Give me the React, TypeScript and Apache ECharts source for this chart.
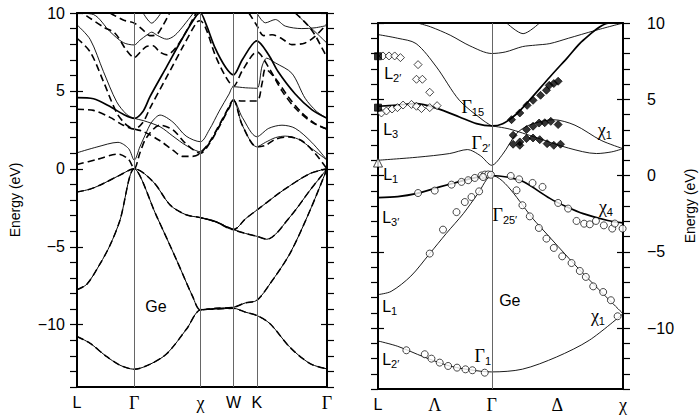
import React, { useEffect, useRef } from "react";
import * as echarts from "echarts";

// ---------- axes / tick labels ----------
const leftTickPos = [0, 0.866, 1.866, 2.366, 2.72, 3.781];
const leftTickLabels = ["L", "Γ", "χ", "W", "K", "Γ"];
const rightTickPos = [0, 0.433, 0.866, 1.366, 1.866];
const rightTickLabels = ["L", "Λ", "Γ", "Δ", "χ"];
const leftVerticals = [0.866, 1.866, 2.366, 2.72];
const rightVerticals = [0.866];
const majorTicks = [-10, -5, 0, 5, 10];

// ---------- left panel (two calculations: solid / dashed) ----------
const leftValence = [
  [[0,-10.76],[0.2,-11.2],[0.433,-12.0],[0.65,-12.6],[0.866,-12.86],[1.1,-12.55],[1.357,-11.87],[1.66,-10.26],[1.866,-9.05],[2.1,-9.0],[2.366,-8.95],[2.55,-9.2],[2.72,-9.41],[2.92,-9.94],[3.22,-11.45],[3.525,-12.5],[3.781,-12.84]],
  [[0,-7.76],[0.15,-7.4],[0.348,-6.1],[0.5,-4.9],[0.65,-3.3],[0.866,0],[1.2,-3.0],[1.508,-5.87],[1.75,-8.2],[1.866,-9.05],[2.1,-8.95],[2.366,-8.88],[2.55,-8.6],[2.72,-8.44],[2.92,-7.37],[3.22,-5.44],[3.525,-2.66],[3.781,0]],
  [[0,-1.48],[0.2,-1.3],[0.4,-0.94],[0.65,-0.4],[0.866,0],[1.154,-0.84],[1.41,-2.33],[1.65,-2.95],[1.866,-3.13],[2.1,-3.4],[2.366,-3.9],[2.55,-4.15],[2.72,-4.33],[2.87,-4.52],[3.22,-3.09],[3.525,-1.37],[3.781,0]],
  [[1.866,-3.13],[2.1,-3.4],[2.366,-3.9],[2.55,-3.2],[2.72,-2.65],[3.12,-1.37],[3.525,-0.3],[3.781,0]],
];
const leftSolidThin = [
  [[0,1.03],[0.3,1.4],[0.62,1.7],[0.78,1.3],[0.866,0.56],[0.95,1.4],[1.03,2.16],[1.13,3.0],[1.256,3.45],[1.45,3.0],[1.65,2.1],[1.866,1.74],[2.0,2.5],[2.15,3.7],[2.3,4.8],[2.366,5.27],[2.55,5.2],[2.72,5.17],[2.8,6.6],[2.87,7.1],[3.0,6.8],[3.25,6.13],[3.45,4.53],[3.62,3.7],[3.781,3.24]],
  [[0,9.24],[0.2,8.3],[0.4,6.24],[0.6,4.3],[0.75,3.5],[0.866,3.24],[1.0,3.1],[1.256,2.7],[1.45,2.1],[1.65,1.5],[1.866,1.1],[2.0,1.65],[2.15,2.75],[2.3,3.95],[2.366,4.42],[2.5,3.3],[2.72,2.06],[2.9,2.6],[3.1,2.8],[3.3,2.6],[3.55,1.7],[3.781,0.56]],
  [[1.866,1.1],[2.0,1.65],[2.15,2.75],[2.3,3.95],[2.366,4.42],[2.5,2.8],[2.72,1.41],[2.85,1.7],[3.0,2.0],[3.15,2.1],[3.35,1.9],[3.55,1.3],[3.781,0.56]],
  [[0,10.0],[0.25,9.9],[0.5,8.8],[0.7,8.1],[0.866,7.95],[0.95,8.25],[1.06,8.6],[1.13,8.77],[1.22,8.55],[1.357,8.32],[1.46,8.5],[1.56,8.92],[1.76,10.0]],
  [[1.0,10.0],[1.13,9.35],[1.27,10.0]],
  [[2.72,10.0],[2.85,9.37],[3.0,9.58],[3.15,9.16],[3.4,9.0],[3.6,9.05],[3.781,9.2]],
  [[3.3,10.0],[3.5,9.2],[3.65,8.6],[3.781,8.06]],
];
const leftSolidThick = [
  [[0,4.57],[0.25,4.5],[0.5,4.0],[0.7,3.5],[0.866,3.24],[1.0,3.7],[1.104,4.63],[1.357,6.56],[1.61,8.49],[1.81,9.85],[1.866,10.0],[1.95,9.3],[2.09,7.74],[2.25,6.5],[2.366,6.03],[2.5,7.0],[2.72,8.21],[2.9,7.3],[3.04,6.24],[3.3,4.8],[3.55,3.8],[3.781,3.24]],
];
const leftDashed = [
  [[0,0.28],[0.3,0.6],[0.62,0.95],[0.78,0.6],[0.866,0],[0.95,1.0],[1.05,2.0],[1.256,2.8],[1.45,2.5],[1.65,1.6],[1.866,1.0],[2.0,1.6],[2.15,2.7],[2.3,3.9],[2.366,4.42],[2.5,2.8],[2.72,1.41],[2.85,1.5],[3.0,1.9],[3.2,2.05],[3.4,1.8],[3.6,1.0],[3.781,0]],
  [[0,3.82],[0.25,3.75],[0.5,3.3],[0.7,2.8],[0.866,2.55],[1.0,3.0],[1.104,3.9],[1.357,5.9],[1.61,7.9],[1.81,9.4],[1.866,9.5],[1.95,9.0],[2.09,7.3],[2.25,5.9],[2.366,5.3],[2.5,6.3],[2.72,7.5],[2.9,6.5],[3.1,5.0],[3.3,3.9],[3.55,3.0],[3.781,2.55]],
  [[0,8.38],[0.2,7.5],[0.4,5.6],[0.6,3.6],[0.75,2.8],[0.866,2.55],[1.0,2.4],[1.256,1.8],[1.45,1.2],[1.6,0.8],[1.75,0.8],[1.866,1.0],[2.0,1.7],[2.15,2.8],[2.3,4.0],[2.366,4.42],[2.5,4.35],[2.72,4.35],[2.8,5.5],[2.85,6.4],[3.0,5.8],[3.2,4.6],[3.4,3.6],[3.6,2.9],[3.781,2.55]],
  [[0,10.2],[0.15,9.8],[0.4,9.1],[0.575,8.7],[0.75,7.6],[0.866,7.14],[0.96,7.5],[1.05,7.85],[1.15,7.9],[1.25,7.5],[1.36,7.31],[1.5,7.8],[1.65,8.8],[1.8,10.0]],
  [[0.5,10.0],[0.7,9.55],[0.866,9.35],[1.0,8.9],[1.1,8.55],[1.2,8.6],[1.3,9.2],[1.4,10.0]],
  [[2.6,10.0],[2.72,9.2],[2.82,8.55],[2.95,8.6],[3.1,8.35],[3.25,7.97],[3.45,8.08],[3.6,8.5],[3.781,9.3]],
  [[3.3,10.0],[3.45,9.4],[3.58,8.72],[3.7,7.8],[3.781,7.14]],
];
const leftLabels = [[1.195, -8.83, "{m|Ge}"]];

// ---------- right panel (calculation + experiment) ----------
const rightThin = [
  [[0,-10.85],[0.15,-11.2],[0.35,-11.9],[0.55,-12.5],[0.75,-12.8],[0.866,-12.88],[1.1,-12.7],[1.36,-11.9],[1.61,-10.8],[1.866,-9.06]],
  [[0,-7.81],[0.1,-7.6],[0.25,-6.6],[0.394,-5.12],[0.52,-3.8],[0.65,-2.5],[0.76,-1.2],[0.866,0],[1.207,-3.1],[1.537,-6.2],[1.866,-9.06]],
  [[0,1.0],[0.3,1.2],[0.546,1.44],[0.68,1.7],[0.78,1.3],[0.866,0.67],[0.95,1.4],[1.055,2.75],[1.15,3.3],[1.334,3.66],[1.5,3.3],[1.7,2.3],[1.866,1.76]],
  [[0.866,3.25],[1.0,3.05],[1.2,2.5],[1.45,1.8],[1.664,1.44],[1.78,1.55],[1.866,1.76]],
  [[0,9.24],[0.15,9.0],[0.29,8.65],[0.445,7.12],[0.62,4.93],[0.8,3.62],[0.866,3.25]],
  [[0.3,10.0],[0.4,9.75],[0.55,9.2],[0.7,8.5],[0.866,8.0],[0.97,8.1],[1.1,8.45],[1.2,8.55],[1.309,8.65],[1.45,9.0],[1.65,9.5],[1.866,10.0]],
  [[0.98,10.0],[1.105,9.3],[1.23,10.0]],
];
const rightThick = [
  [[0,-1.45],[0.15,-1.38],[0.29,-1.19],[0.47,-0.75],[0.62,-0.4],[0.75,-0.12],[0.866,0],[0.98,-0.1],[1.105,-0.4],[1.309,-1.5],[1.436,-2.05],[1.563,-2.5],[1.75,-2.95],[1.866,-3.11]],
  [[0,4.54],[0.15,4.62],[0.29,4.71],[0.45,4.4],[0.62,3.84],[0.75,3.4],[0.866,3.25],[0.95,3.4],[1.05,4.0],[1.15,4.9],[1.309,6.46],[1.44,7.7],[1.563,8.87],[1.766,10.0],[1.866,10.0]],
];
const expCircles = [
  [0.305,-1.15],[0.432,-0.99],[0.56,-0.6],[0.636,-0.42],[0.687,-0.31],[0.737,-0.16],[0.788,0.0],[0.814,0.06],[0.839,0.07],[0.86,0.05],
  [0.394,-5.12],[0.495,-3.55],[0.598,-2.4],[0.661,-1.74],[0.712,-1.41],[0.77,-1.04],[0.8,-0.1],
  [1.011,-0.03],[1.075,-0.25],[1.177,-0.49],[1.253,-0.75],[1.055,-0.97],[1.1,-1.95],
  [1.372,-1.8],[1.448,-2.17],[1.512,-2.98],[1.57,-3.16],[1.613,-3.2],[1.66,-2.98],[1.72,-3.27],[1.784,-3.48],[1.804,-3.15],[1.863,-3.48],
  [1.156,-2.68],[1.225,-3.44],[1.283,-4.14],[1.339,-4.75],[1.403,-5.3],[1.474,-5.74],[1.537,-6.26],[1.583,-6.65],[1.639,-7.27],[1.715,-7.64],[1.774,-8.18],[1.825,-9.23],
  [0.216,-11.46],[0.356,-11.72],[0.407,-12.01],[0.47,-12.27],[0.534,-12.49],[0.602,-12.6],[0.666,-12.71],[0.719,-12.77],[0.813,-12.93],
];
const expOpenDiamonds = [
  [0.038,7.84],[0.084,7.84],[0.127,7.84],[0.171,7.73],[0.305,7.27],[0.293,6.31],[0.338,6.31],[0.394,5.46],
  [0.026,4.1],[0.064,4.23],[0.107,4.36],[0.148,4.45],[0.191,4.62],[0.255,4.66],[0.293,4.54],[0.331,4.39],[0.394,4.45],[0.45,4.58],
];
const expFilledDiamonds = [
  [1.017,3.66],[1.08,4.1],[1.136,4.6],[1.181,4.93],[1.238,5.26],[1.283,5.59],[1.304,5.91],[1.339,6.03],[1.372,6.18],
  [1.029,2.64],[1.131,3.01],[1.181,3.23],[1.227,3.44],[1.27,3.46],[1.316,3.55],[1.372,3.34],
  [1.029,2.05],[1.08,2.2],[1.08,1.98],[1.131,2.42],[1.181,2.46],[1.232,2.35],[1.288,2.09],[1.339,1.98],[1.39,2.05],
];
const expSquares = [[0,7.82],[0,4.45]];
const expTriangles = [[0,0.85]];
const rightLabels = [
  [0.112, 6.7, "{m|L}{s|2′}"],
  [0.097, 3.03, "{m|L}{s|3}"],
  [0.097, 0.08, "{m|L}{s|1}"],
  [0.097, -2.74, "{m|L}{s|3′}"],
  [0.089, -8.58, "{m|L}{s|1}"],
  [0.097, -12.05, "{m|L}{s|2′}"],
  [0.722, 4.47, "{g|Γ}{s|15}"],
  [0.783, 2.11, "{g|Γ}{s|2′}"],
  [0.966, -2.61, "{g|Γ}{s|25′}"],
  [0.798, -11.86, "{g|Γ}{s|1}"],
  [1.728, 2.96, "{g|χ}{s|1}"],
  [1.736, -2.09, "{g|χ}{s|4}"],
  [1.675, -9.23, "{g|χ}{s|1}"],
  [1.004, -8.18, "{m|Ge}"],
];

const SANS = "'Liberation Sans', Arial, sans-serif";
const SERIF = "'Liberation Serif', 'DejaVu Serif', serif";
const greek = /[ΓΛΔχ]/;

const richGraphic = {
  m: { fill: "#000", fontFamily: SANS, fontSize: 16 },
  g: { fill: "#000", fontFamily: SERIF, fontSize: 18 },
  s: { fill: "#000", fontFamily: SANS, fontSize: 11, padding: [9, 0, 0, 0] },
};

function tickFormatter(pos: number[], labels: string[]) {
  return (v: number) => {
    const i = pos.findIndex((p) => Math.abs(p - v) < 1e-6);
    if (i < 0) return "";
    const t = labels[i];
    return greek.test(t) ? `{g|${t}}` : `{s|${t}}`;
  };
}

function buildOption() {
  const Y_MIN = -14;
  const Y_MAX = 10;
  const frame = { show: true, onZero: false, lineStyle: { color: "#000", width: 2 } };
  const yFmt = (v: number) => (v % 5 === 0 ? (v < 0 ? "−" + Math.abs(v) : String(v)) : "");

  const yOuter = (grid: number, position: string, labels: boolean, name: string, nameGap: number, margin: number) => ({
    type: "value",
    gridIndex: grid,
    position,
    min: Y_MIN,
    max: Y_MAX,
    interval: 1,
    name,
    nameLocation: "middle",
    nameRotate: 90,
    nameGap,
    nameTextStyle: { fontFamily: SANS, fontSize: 14, color: "#000" },
    axisLine: frame,
    axisTick: { show: true, inside: false, length: 7, lineStyle: { color: "#000", width: 1.2 } },
    axisLabel: {
      show: labels,
      formatter: yFmt,
      margin,
      fontFamily: SANS,
      fontSize: 16,
      color: "#000",
      showMinLabel: true,
      showMaxLabel: true,
    },
    splitLine: { show: false },
  });
  const yInner = (grid: number, position: string) => ({
    type: "value",
    gridIndex: grid,
    position,
    min: Y_MIN,
    max: Y_MAX,
    axisLine: { show: false, onZero: false },
    axisTick: { show: true, inside: true, length: 6, customValues: majorTicks, lineStyle: { color: "#000", width: 1.2 } },
    axisLabel: { show: false },
    splitLine: { show: false },
  });
  const xBottom = (grid: number, max: number, pos: number[], labels: string[]) => ({
    type: "value",
    gridIndex: grid,
    position: "bottom",
    min: 0,
    max,
    axisLine: frame,
    axisTick: { show: false },
    splitLine: { show: false },
    axisLabel: {
      customValues: pos,
      formatter: tickFormatter(pos, labels),
      margin: 7,
      showMinLabel: true,
      showMaxLabel: true,
      rich: {
        g: { fontFamily: SERIF, fontSize: 18, color: "#000" },
        s: { fontFamily: SANS, fontSize: 16, color: "#000" },
      },
    },
  });
  const xTop = (grid: number, max: number) => ({
    type: "value",
    gridIndex: grid,
    position: "top",
    min: 0,
    max,
    axisLine: frame,
    axisTick: { show: false },
    axisLabel: { show: false },
    splitLine: { show: false },
  });

  const line = (data: number[][], xi: number, yi: number, width: number, dashed: boolean) => ({
    type: "line",
    xAxisIndex: xi,
    yAxisIndex: yi,
    data,
    smooth: 0.3,
    symbol: "none",
    silent: true,
    clip: true,
    z: 3,
    lineStyle: { color: "#000", width, type: dashed ? [7, 4] : "solid" },
  });
  const scatter = (data: number[][], symbol: string, size: number, filled: boolean) => ({
    type: "scatter",
    xAxisIndex: 2,
    yAxisIndex: 4,
    data,
    symbol,
    symbolSize: size,
    silent: true,
    clip: false,
    z: 5,
    itemStyle: { color: filled ? "#000" : "#fff", borderColor: "#000", borderWidth: 0.9 },
  });
  const verticalSeries = (xi: number, yi: number, xs: number[]) => ({
    type: "line",
    xAxisIndex: xi,
    yAxisIndex: yi,
    data: [],
    silent: true,
    z: 2,
    markLine: {
      silent: true,
      symbol: ["none", "none"],
      label: { show: false },
      lineStyle: { color: "#666", width: 1, type: "solid" },
      data: xs.map((v) => ({ xAxis: v })),
    },
  });

  const series: any[] = [];
  series.push(verticalSeries(0, 0, leftVerticals));
  series.push(verticalSeries(2, 4, rightVerticals));
  leftValence.forEach((b) => {
    series.push(line(b, 0, 0, 1.0, false));
    series.push(line(b, 0, 0, 1.5, true));
  });
  leftSolidThin.forEach((b) => series.push(line(b, 0, 0, 0.9, false)));
  leftSolidThick.forEach((b) => series.push(line(b, 0, 0, 1.7, false)));
  leftDashed.forEach((b) => series.push(line(b, 0, 0, 1.6, true)));
  rightThin.forEach((b) => series.push(line(b, 2, 4, 0.9, false)));
  rightThick.forEach((b) => series.push(line(b, 2, 4, 1.7, false)));
  series.push(scatter(expCircles, "circle", 7, false));
  series.push(scatter(expOpenDiamonds, "diamond", 8, false));
  series.push(scatter(expFilledDiamonds, "diamond", 8, true));
  series.push(scatter(expSquares, "rect", 7, true));
  series.push(scatter(expTriangles, "triangle", 9, false));

  return {
    animation: false,
    backgroundColor: "#fff",
    grid: [
      { left: 77, top: 13, width: 250, height: 374 },
      { left: 378, top: 23, width: 245, height: 366 },
    ],
    xAxis: [
      xBottom(0, 3.781, leftTickPos, leftTickLabels),
      xTop(0, 3.781),
      xBottom(1, 1.866, rightTickPos, rightTickLabels),
      xTop(1, 1.866),
    ],
    yAxis: [
      yOuter(0, "left", true, "Energy (eV)", 55, 12),
      yInner(0, "left"),
      yOuter(0, "right", false, "", 0, 8),
      yInner(0, "right"),
      yOuter(1, "left", false, "", 0, 8),
      yInner(1, "left"),
      yOuter(1, "right", true, "Energy (eV)", 60, 24),
      yInner(1, "right"),
    ],
    series,
  };
}

function annotationGraphics(chart: any) {
  const make = (rows: any[][], xAxisIndex: number, yAxisIndex: number) =>
    rows.map((r) => {
      const [px, py] = chart.convertToPixel({ xAxisIndex, yAxisIndex }, [r[0], r[1]]);
      return {
        type: "text",
        x: px,
        y: py,
        silent: true,
        z: 10,
        style: { text: r[2], rich: richGraphic, fill: "#000", align: "center", verticalAlign: "middle" },
      };
    });
  return [...make(leftLabels, 0, 0), ...make(rightLabels, 2, 4)];
}

export default function App() {
  const ref = useRef<HTMLDivElement>(null);
  useEffect(() => {
    if (!ref.current) return;
    const chart = echarts.init(ref.current, null, { renderer: "svg" });
    chart.setOption(buildOption() as any);
    chart.setOption({ graphic: annotationGraphics(chart) } as any);
    return () => chart.dispose();
  }, []);
  return (
    <div
      ref={ref}
      style={{ position: "fixed", left: 0, top: 0, width: 699, height: 415, background: "#fff" }}
    />
  );
}
